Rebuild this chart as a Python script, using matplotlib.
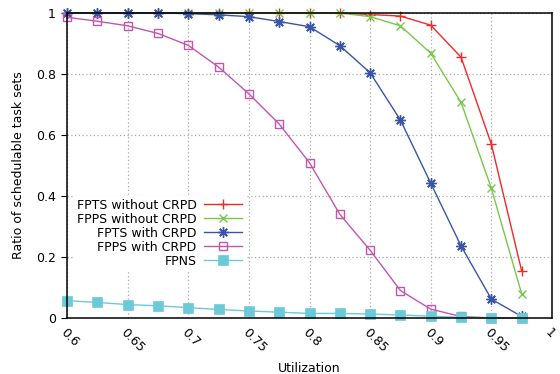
import matplotlib
matplotlib.use('Agg')
import matplotlib.pyplot as plt

# utilization points
utilization = [0.6, 0.625, 0.65, 0.675, 0.7, 0.725, 0.75, 0.775,
               0.8, 0.825, 0.85, 0.875, 0.9, 0.925, 0.95, 0.975]

fpts_without_crpd = [1.0, 1.0, 1.0, 1.0, 1.0, 1.0, 1.0, 1.0,
                     1.0, 1.0, 0.995, 0.99, 0.96, 0.855, 0.57, 0.154]
fpps_without_crpd = [1.0, 1.0, 1.0, 1.0, 1.0, 1.0, 1.0, 1.0,
                     1.0, 1.0, 0.988, 0.958, 0.868, 0.707, 0.425, 0.079]
fpts_with_crpd = [1.0, 1.0, 1.0, 1.0, 0.998, 0.994, 0.988, 0.972,
                  0.955, 0.893, 0.804, 0.649, 0.442, 0.236, 0.062, 0.005]
fpps_with_crpd = [0.986, 0.973, 0.958, 0.933, 0.894, 0.823, 0.735, 0.636,
                  0.509, 0.340, 0.222, 0.090, 0.029, 0.005, 0.0, 0.0]
fpns = [0.057, 0.051, 0.044, 0.040, 0.034, 0.028, 0.023, 0.019,
        0.015, 0.015, 0.013, 0.010, 0.006, 0.002, 0.001, 0.0]

x_ticks = [0.6, 0.65, 0.7, 0.75, 0.8, 0.85, 0.9, 0.95, 1.0]
x_tick_labels = ['0.6', '0.65', '0.7', '0.75', '0.8', '0.85', '0.9', '0.95', '1']
y_ticks = [0, 0.2, 0.4, 0.6, 0.8, 1.0]
y_tick_labels = ['0', '0.2', '0.4', '0.6', '0.8', '1']

series = [
    ('FPTS without CRPD', fpts_without_crpd, '#ee2a2a', dict(marker='+', ms=7, mew=1.0)),
    ('FPPS without CRPD', fpps_without_crpd, '#77c84a', dict(marker='x', ms=6, mew=1.0)),
    ('FPTS with CRPD', fpts_with_crpd, '#3a55a8', dict(marker=(8, 2, 0), ms=7.5, mew=1.0)),
    ('FPPS with CRPD', fpps_with_crpd, '#c455ac', dict(marker='s', ms=6, mew=1.0, mfc='none')),
    ('FPNS', fpns, '#6ccad8', dict(marker='s', ms=6.5, mew=0.5)),
]

plt.rcParams['font.family'] = ['DejaVu Sans']
fig = plt.figure(figsize=(5.6, 3.74), dpi=100)
ax = fig.add_axes([67 / 560, 56 / 374, 485 / 560, 305 / 374])

for name, values, color, style in series:
    ax.plot(utilization, values, color=color, lw=1.0, label=name, clip_on=False, **style)

ax.set_xlim(0.6, 1.0)
ax.set_ylim(0, 1.0)
ax.set_xticks(x_ticks)
ax.set_xticklabels(x_tick_labels, rotation=-45, ha='left', va='top',
                   rotation_mode='anchor', fontsize=9)
ax.set_yticks(y_ticks)
ax.set_yticklabels(y_tick_labels, fontsize=9)
ax.tick_params(axis='x', length=0, pad=6)
ax.tick_params(axis='y', direction='out', length=4, pad=4)
ax.grid(True, color='#a8a8a8', linestyle=(0, (1, 2)), lw=0.9)
ax.set_axisbelow(True)
for sp in ax.spines.values():
    sp.set_linewidth(1.1)
    sp.set_color('black')

ax.set_xlabel('Utilization', fontsize=9)
ax.xaxis.set_label_coords(0.5, -0.145)
ax.set_ylabel('Ratio of schedulable task sets', fontsize=9, labelpad=8)

leg = ax.legend(loc='upper left', bbox_to_anchor=(0.002, 0.42), markerfirst=False,
                frameon=True, fancybox=False, framealpha=1.0, edgecolor='white',
                fontsize=9, handlelength=3.0, handletextpad=0.6, labelspacing=0.08,
                borderpad=0.2)

plt.savefig('out.png', dpi=100)
